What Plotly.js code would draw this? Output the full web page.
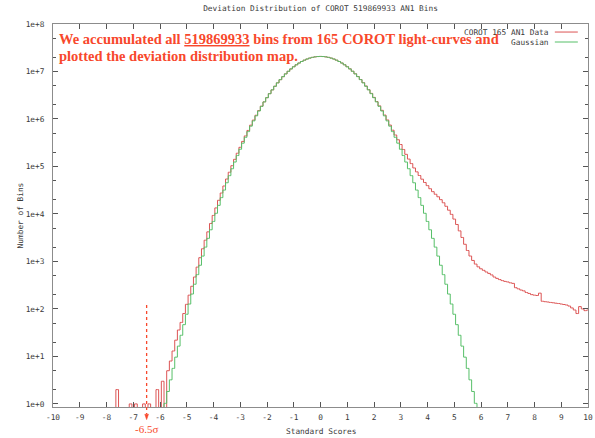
<!DOCTYPE html>
<html>
<head>
<meta charset="utf-8">
<script src="https://cdn.plot.ly/plotly-3.0.1.min.js"></script>
<style>
  html, body { margin: 0; padding: 0; background: #fff; }
  #chart { width: 595px; height: 438px; }
</style>
</head>
<body>
<div id="chart"></div>
<script>
// ---- Data ----
// Bin centres: -10.0 ... 10.0 in steps of 0.1 (histogram of standard scores)
const dataBinStart = -10.0;
const binWidth = 0.1;

// COROT 165 AN1 Data: counts per bin, rows of ten bins starting at -10.0
const dataCounts = [
  0, 0, 0, 0, 0, 0, 0, 0, 0, 0,                                   // -10.0 .. -9.1
  0, 0, 0, 0, 0, 0, 0, 0, 0, 0,                                   // -9.0 .. -8.1
  0, 0, 0, 0, 2, 0, 0, 0, 0, 1,                                   // -8.0 .. -7.1
  0, 1, 0, 0, 1, 0, 1, 0, 0, 2,                                   // -7.0 .. -6.1
  0, 3, 0, 5, 8, 13, 22, 36, 52, 80,                              // -6.0 .. -5.1
  125, 195, 300, 470, 760, 1200, 1850, 2800, 4200, 6300,          // -5.0 .. -4.1
  9300, 13400, 19400, 27600, 38800, 54400, 75600, 103900, 141300, 190000,          // -4.0 .. -3.1
  253000, 337000, 440000, 574000, 741000, 948000, 1199000, 1502000, 1862000, 2290000, // -3.0 .. -2.1
  2810000, 3410000, 4100000, 4890000, 5770000, 6730000, 7780000, 8910000, 10090000, 11330000, // -2.0 .. -1.1
  12580000, 13830000, 15060000, 16230000, 17320000, 18300000, 19150000, 19830000, 20330000, 20640000, // -1.0 .. -0.1
  20740000, 20640000, 20330000, 19830000, 19150000, 18300000, 17320000, 16230000, 15070000, 13850000, // 0.0 .. 0.9
  12600000, 11360000, 10130000, 8950000, 7830000, 6780000, 5820000, 4940000, 4150000, 3460000, // 1.0 .. 1.9
  2850000, 2330000, 1890000, 1520000, 1210000, 955000, 745000, 580000, 460000, 365000, // 2.0 .. 2.9
  290000, 228000, 180000, 143000, 115000, 93000, 77000, 64500, 54000, 46000,        // 3.0 .. 3.9
  39500, 34000, 29500, 26000, 23000, 20000, 17200, 14500, 12000, 9800,              // 4.0 .. 4.9
  7800, 6000, 4400, 3200, 2300, 1700, 1300, 1050, 880, 770,                         // 5.0 .. 5.9
  700, 650, 600, 560, 520, 470, 440, 415, 395, 380,                                 // 6.0 .. 6.9
  370, 355, 345, 280, 265, 250, 240, 222, 212, 200,                                 // 7.0 .. 7.9
  195, 192, 215, 145, 142, 140, 137, 135, 132, 130,                                 // 8.0 .. 8.9
  127, 124, 121, 115, 105, 95, 80, 112, 100, 92,                                    // 9.0 .. 9.9
  95                                                                                // 10.0
];

// Gaussian reference: expected counts per bin, bins -5.9 ... 5.9
const gaussBinStart = -5.9;
const gaussCounts = [
  0.573, 1.028, 1.827, 3.214, 5.598, 9.652, 16.48, 27.87, 46.64, 77.29,            // -5.9 .. -5.0
  126.8, 205.9, 331.1, 527.2, 830.9, 1297, 2003, 3064, 4640, 6958,                  // -4.9 .. -4.0
  10330, 15180, 22080, 31810, 45370, 64070, 89560, 123950, 169800, 230400,          // -3.9 .. -3.0
  309400, 411500, 541800, 706200, 911300, 1164000, 1473000, 1844000, 2287000, 2807000, // -2.9 .. -2.0
  3411000, 4104000, 4889000, 5767000, 6733000, 7784000, 8909000, 10095000, 11330000, 12580000, // -1.9 .. -1.0
  13830000, 15060000, 16230000, 17320000, 18300000, 19150000, 19830000, 20330000, 20640000, 20740000, // -0.9 .. 0.0
  20640000, 20330000, 19830000, 19150000, 18300000, 17320000, 16230000, 15060000, 13830000, 12580000, // 0.1 .. 1.0
  11330000, 10095000, 8909000, 7784000, 6733000, 5767000, 4889000, 4104000, 3411000, 2807000, // 1.1 .. 2.0
  2287000, 1844000, 1473000, 1164000, 911300, 706200, 541800, 411500, 309400, 230400, // 2.1 .. 3.0
  169800, 123950, 89560, 64070, 45370, 31810, 22080, 15180, 10330, 6958,            // 3.1 .. 4.0
  4640, 3064, 2003, 1297, 830.9, 527.2, 331.1, 205.9, 126.8, 77.29,                 // 4.1 .. 5.0
  46.64, 27.87, 16.48, 9.652, 5.598, 3.214, 1.827, 1.028, 0.573                     // 5.1 .. 5.9
];

const seriesNames = ["COROT 165 AN1 Data", "Gaussian"];
const xTickVals = [-10,-9,-8,-7,-6,-5,-4,-3,-2,-1,0,1,2,3,4,5,6,7,8,9,10];
const yTickVals = [1, 10, 100, 1e3, 1e4, 1e5, 1e6, 1e7, 1e8];
const yTickLabels = ["1e+0","1e+1","1e+2","1e+3","1e+4","1e+5","1e+6","1e+7","1e+8"];
const yMinorVals = [2,5,20,50,200,500,2e3,5e3,2e4,5e4,2e5,5e5,2e6,5e6,2e7,5e7];
const chartTitle = "Deviation Distribution of COROT 519869933 AN1 Bins";
const xTitle = "Standard Scores";
const yTitle = "Number of Bins";
const noteLine1 = "We accumulated all <span style=\"text-decoration:underline\">519869933</span> bins from 165 COROT light-curves and";
const noteLine2 = "plotted the deviation distribution map.";
const markValue = -6.5;
const markLabel = "-6.5σ";

// ---- Build traces ----
function centres(start, n) {
  const out = [];
  for (let i = 0; i < n; i++) out.push(Math.round((start + i * binWidth) * 10) / 10);
  return out;
}
// empty bins cannot be shown on a log axis: send them below the visible range
const toLog = v => (v > 0 ? v : 1e-3);

const red = '#dc5454';
const green = '#56bf68';
const mono = 'DejaVu Sans Mono, monospace';
const textGray = '#3a3a3a';
const noteRed = '#f8482c';

const traces = [
  {
    x: centres(dataBinStart, dataCounts.length),
    y: dataCounts.map(toLog),
    type: 'scatter', mode: 'lines',
    line: { shape: 'hvh', color: red, width: 1 },
    name: seriesNames[0], hoverinfo: 'skip'
  },
  {
    x: centres(gaussBinStart, gaussCounts.length),
    y: gaussCounts.map(toLog),
    type: 'scatter', mode: 'lines',
    line: { shape: 'hvh', color: green, width: 1 },
    name: seriesNames[1], hoverinfo: 'skip'
  }
];

const layout = {
  width: 595, height: 438,
  margin: { l: 53, r: 7, t: 24, b: 31, pad: 0 },
  paper_bgcolor: '#fff', plot_bgcolor: '#fff',
  showlegend: false,
  title: {
    text: chartTitle,
    font: { family: mono, size: 7.8, color: textGray },
    x: 0.5, xref: 'paper', xanchor: 'center',
    y: 1 - 8 / 438, yref: 'container', yanchor: 'middle'
  },
  xaxis: {
    range: [-10, 10],
    tickmode: 'array', tickvals: xTickVals, ticktext: xTickVals.map(String),
    ticks: 'inside', ticklen: 5, tickwidth: 1, tickcolor: '#555',
    showline: true, linecolor: '#8c8c8c', linewidth: 1, mirror: 'allticks',
    showgrid: false, zeroline: false,
    tickfont: { family: mono, size: 7.8, color: textGray },
    ticklabelstandoff: 3
  },
  yaxis: {
    type: 'log', range: [-0.065, 8],
    tickmode: 'array', tickvals: yTickVals, ticktext: yTickLabels,
    ticks: 'inside', ticklen: 5, tickwidth: 1, tickcolor: '#555',
    minor: { tickmode: 'array', tickvals: yMinorVals, ticks: 'inside', ticklen: 3, tickcolor: '#555', showgrid: false },
    showline: true, linecolor: '#8c8c8c', linewidth: 1, mirror: 'allticks',
    showgrid: false, zeroline: false,
    tickfont: { family: mono, size: 7.8, color: textGray },
    ticklabelstandoff: 6
  },
  shapes: [
    // legend samples
    { type: 'line', xref: 'paper', yref: 'paper', x0: 0.938, x1: 0.981, y0: 0.979, y1: 0.979, line: { color: red, width: 1 } },
    { type: 'line', xref: 'paper', yref: 'paper', x0: 0.938, x1: 0.981, y0: 0.953, y1: 0.953, line: { color: green, width: 1 } },
    // -6.5 sigma marker
    { type: 'line', xref: 'x', yref: 'paper', x0: markValue, x1: markValue, y0: 0.266, y1: -0.018,
      line: { color: noteRed, width: 1.3, dash: 'dot' } },
    { type: 'path', xref: 'x', yref: 'paper',
      path: 'M -6.57 -0.019 L -6.43 -0.019 L -6.5 -0.033 Z',
      fillcolor: noteRed, line: { color: noteRed, width: 0.5 } }
  ],
  annotations: [
    { text: seriesNames[0], xref: 'paper', yref: 'paper', x: 0.931, y: 0.979, xanchor: 'right', yanchor: 'middle',
      showarrow: false, font: { family: mono, size: 7.8, color: textGray } },
    { text: seriesNames[1], xref: 'paper', yref: 'paper', x: 0.931, y: 0.953, xanchor: 'right', yanchor: 'middle',
      showarrow: false, font: { family: mono, size: 7.8, color: textGray } },
    { text: yTitle, xref: 'paper', yref: 'paper', x: -0.06, y: 0.5, xanchor: 'center', yanchor: 'middle',
      textangle: -90, showarrow: false, font: { family: mono, size: 7.8, color: textGray } },
    { text: xTitle, xref: 'paper', yref: 'paper', x: 0.5, y: -0.065, xanchor: 'center', yanchor: 'middle',
      showarrow: false, font: { family: mono, size: 7.8, color: textGray } },
    { text: markLabel, xref: 'x', yref: 'paper', x: markValue, y: -0.057, xanchor: 'center', yanchor: 'middle',
      showarrow: false, font: { family: 'Liberation Serif, serif', size: 11, color: noteRed } },
    { text: noteLine1, xref: 'paper', yref: 'paper', x: 0.008, y: 0.962, xanchor: 'left', yanchor: 'middle',
      showarrow: false, font: { family: 'Liberation Serif, serif', size: 14.5, color: noteRed, weight: 'bold' } },
    { text: noteLine2, xref: 'paper', yref: 'paper', x: 0.008, y: 0.916, xanchor: 'left', yanchor: 'middle',
      showarrow: false, font: { family: 'Liberation Serif, serif', size: 14.5, color: noteRed, weight: 'bold' } }
  ]
};

Plotly.newPlot('chart', traces, layout, { displayModeBar: false, staticPlot: true });
</script>
</body>
</html>
